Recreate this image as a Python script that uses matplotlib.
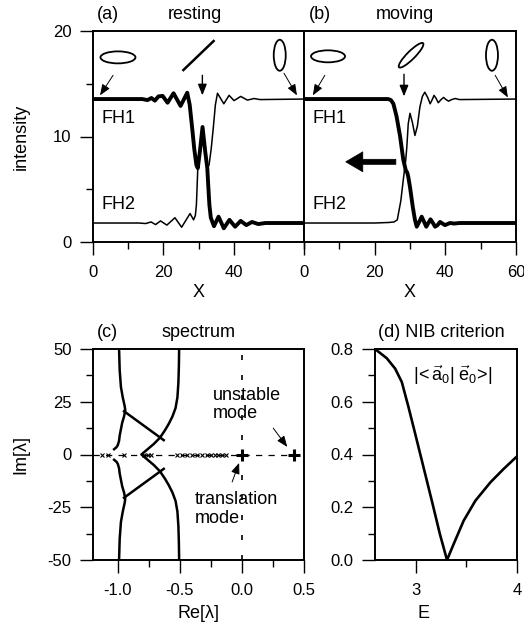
import matplotlib
matplotlib.use("Agg")
import matplotlib.pyplot as plt
from matplotlib.ticker import MultipleLocator, FormatStrFormatter
from matplotlib.patches import Ellipse
from matplotlib.transforms import ScaledTranslation

plt.rcParams['font.family'] = ['Liberation Sans', 'DejaVu Sans']
plt.rcParams['axes.unicode_minus'] = False
plt.rcParams['mathtext.fontset'] = 'custom'
plt.rcParams['mathtext.rm'] = 'Liberation Sans'
plt.rcParams['mathtext.it'] = 'Liberation Sans'
plt.rcParams['mathtext.bf'] = 'Liberation Sans:bold'

# ---------------- data: panel (a) resting ----------------
rest_fh1_x = [0, 14, 15.5, 16.6, 17.6, 18.6, 19.8, 21.2, 22.9, 24.9, 26.8, 27.5, 28.2, 28.8, 29.4, 29.8,
              30.4, 31.15, 31.9, 32.5, 32.8, 33.1, 33.5, 34.4, 35.7, 37.2, 38.8, 40.4, 42.0, 43.6, 45.2, 47, 49, 60]
rest_fh1_y = [13.55, 13.55, 13.45, 13.65, 13.4, 13.8, 13.85, 13.2, 14.1, 12.9, 14.15, 13.0, 10.8, 8.8, 7.3, 7.0,
              8.6, 10.9, 8.6, 7.0, 5.2, 3.5, 2.3, 1.5, 2.4, 1.3, 2.1, 1.45, 2.0, 1.6, 1.9, 1.7, 1.8, 1.8]
rest_fh2_x = [0, 13, 15, 16.5, 17.8, 19.2, 21.0, 23.3, 25.2, 27.6, 28.6, 29.1, 29.4, 29.6, 29.8,
              30.4, 31.15, 31.9, 32.5, 33.0, 33.6, 34.2, 34.8, 35.4, 37.2, 38.7, 40.1, 42.0, 43.9, 45.8, 47.5, 60]
rest_fh2_y = [1.8, 1.8, 1.75, 1.9, 1.65, 2.0, 1.6, 2.3, 1.4, 2.7, 2.1, 2.5, 3.5, 5.2, 7.0,
              8.6, 10.9, 8.6, 7.0, 7.3, 8.8, 10.8, 13.0, 14.1, 13.1, 13.9, 13.4, 13.8, 13.45, 13.6, 13.5, 13.55]

# ---------------- data: panel (b) moving ----------------
mov_fh1_x = [0, 23.8, 24.6, 25.3, 26.2, 27.2, 28.1, 28.8, 29.2, 29.5, 30.0, 30.8, 31.4, 31.9, 32.6, 33.3,
             34.0, 34.6, 35.2, 35.8, 36.5, 37.1, 37.8, 38.5, 39.2, 39.9, 40.6, 41.3, 42.5, 44, 60]
mov_fh1_y = [13.55, 13.55, 13.45, 13.1, 11.9, 10.0, 7.8, 6.8, 6.6, 6.2, 5.2, 3.3, 2.1, 1.45, 1.9, 2.4,
             1.9, 1.45, 1.8, 2.15, 1.8, 1.45, 1.6, 1.9, 1.75, 1.6, 1.7, 1.8, 1.75, 1.8, 1.8]
mov_fh2_x = [0, 20, 24, 25.5, 26.4, 27.4, 28.1, 28.8, 29.1, 29.5, 30.0, 30.7, 31.4, 32.1, 32.8, 33.5,
             34.2, 35.0, 35.7, 36.3, 36.8, 37.4, 38.0, 38.8, 39.5, 40.2, 40.9, 41.8, 42.8, 44, 60]
mov_fh2_y = [1.8, 1.8, 1.85, 1.9, 2.1, 3.9, 5.9, 7.8, 9.0, 11.2, 12.2, 11.3, 10.1, 11.0, 12.8, 13.8,
             14.2, 13.7, 13.1, 13.5, 13.9, 13.6, 13.2, 13.5, 13.7, 13.5, 13.35, 13.5, 13.6, 13.5, 13.55]

# ---------------- data: panel (c) spectrum ----------------
outer_re = [-0.506, -0.508, -0.512, -0.52, -0.535, -0.56, -0.59, -0.62, -0.66, -0.71, -0.76, -0.81,
            -0.76, -0.71, -0.66, -0.62, -0.59, -0.56, -0.535, -0.52, -0.512, -0.508, -0.506]
outer_im = [50, 42, 34, 27, 22, 18, 14.5, 11.5, 8, 5, 2.5, 0,
            -2.5, -5, -8, -11.5, -14.5, -18, -22, -27, -34, -42, -50]
left_up_re = [-0.99, -0.985, -0.975, -0.96, -0.945, -0.94, -0.95, -0.965, -0.975, -0.985, -0.99, -1.0, -1.01, -1.03]
left_up_im = [50, 40, 32, 27, 23, 21, 18, 15, 12, 9, 6.5, 4.5, 3.5, 2.5]
left_lo_re = [-1.03, -1.01, -1.0, -0.99, -0.985, -0.975, -0.965, -0.95, -0.94, -0.945, -0.96, -0.975, -0.985, -0.99]
left_lo_im = [-2.5, -3.5, -4.5, -6.5, -9, -12, -15, -18, -21, -23, -27, -32, -40, -50]
diag_up_re = [-0.95, -0.63]
diag_up_im = [20.5, 6.8]
diag_lo_re = [-0.95, -0.63]
diag_lo_im = [-20.5, -6.8]
discrete_re = [-1.13, -1.08, -0.95, -0.79, -0.76, -0.73, -0.52, -0.48, -0.44, -0.40, -0.36, -0.32,
               -0.28, -0.25, -0.22, -0.19, -0.16, -0.13]
discrete_im = [0] * len(discrete_re)
mode_re = [0.0, 0.42]
mode_im = [0.0, 0.0]

# ---------------- data: panel (d) NIB criterion ----------------
E_vals = [2.6, 2.716, 2.798, 2.864, 2.93, 2.996, 3.078, 3.16, 3.24, 3.31, 3.375, 3.474, 3.59, 3.739, 3.87, 4.0]
nib_vals = [0.8, 0.765, 0.726, 0.675, 0.58, 0.479, 0.352, 0.225, 0.098, 0.0, 0.06, 0.149, 0.225, 0.295, 0.346, 0.393]

# ---------------- figure ----------------
W, H = 524, 631
fig = plt.figure(figsize=(W / 100, H / 100), dpi=100)

def pos(l, r, t, b):
    return [l / W, (H - b) / H, (r - l) / W, (b - t) / H]

axa = fig.add_axes(pos(93, 304, 31, 242))
axb = fig.add_axes(pos(304, 516, 31, 242))
axc = fig.add_axes(pos(93, 304, 349, 560))
axd = fig.add_axes(pos(375, 517, 349, 560))

TFS = 12
LFS = 13
for ax in (axa, axb, axc, axd):
    for s in ax.spines.values():
        s.set_linewidth(1.4)
    ax.tick_params(which='both', direction='out', width=1.0, labelsize=TFS,
                   top=False, right=False)
    ax.tick_params(which='major', length=9.4)
    ax.tick_params(which='minor', length=5)
    ax.tick_params(axis='x', which='both', pad=7.5)
    ax.tick_params(axis='y', which='both', pad=6)

THICK = 2.8
THIN = 1.1

# panel a
axa.plot(rest_fh2_x, rest_fh2_y, color='k', lw=THIN, solid_joinstyle='round')
axa.plot(rest_fh1_x, rest_fh1_y, color='k', lw=THICK, solid_joinstyle='round')
axa.set_xlim(0, 60)
axa.set_ylim(0, 20)
axa.xaxis.set_major_locator(MultipleLocator(20))
axa.xaxis.set_minor_locator(MultipleLocator(10))
axa.set_xticks([0, 20, 40])
axa.yaxis.set_major_locator(MultipleLocator(10))
axa.yaxis.set_minor_locator(MultipleLocator(5))
axa.set_ylabel('intensity', fontsize=LFS)
axa.yaxis.label.set_va('center')
axa.yaxis.set_label_coords(-0.341, 0.5)
axa.set_xlabel('X', fontsize=LFS)
axa.xaxis.set_label_coords(0.5, -0.2)
axa.text(0.02, 1.076, '(a)', transform=axa.transAxes, fontsize=LFS, ha='left', va='center')
axa.text(0.483, 1.076, 'resting', transform=axa.transAxes, fontsize=LFS, ha='center', va='center')
axa.text(2.5, 11.75, 'FH1', fontsize=LFS, ha='left', va='center')
axa.text(2.5, 3.6, 'FH2', fontsize=LFS, ha='left', va='center')

# panel b
axb.plot(mov_fh2_x, mov_fh2_y, color='k', lw=THIN, solid_joinstyle='round')
axb.plot(mov_fh1_x, mov_fh1_y, color='k', lw=THICK, solid_joinstyle='round')
axb.set_xlim(0, 60)
axb.set_ylim(0, 20)
axb.xaxis.set_major_locator(MultipleLocator(20))
axb.xaxis.set_minor_locator(MultipleLocator(10))
axb.tick_params(axis='y', which='both', left=False, labelleft=False)
axb.set_xlabel('X', fontsize=LFS)
axb.xaxis.set_label_coords(0.5, -0.2)
axb.text(0.024, 1.076, '(b)', transform=axb.transAxes, fontsize=LFS, ha='left', va='center')
axb.text(0.476, 1.076, 'moving', transform=axb.transAxes, fontsize=LFS, ha='center', va='center')
axb.text(2.3, 11.75, 'FH1', fontsize=LFS, ha='left', va='center')
axb.text(2.3, 3.6, 'FH2', fontsize=LFS, ha='left', va='center')
axb.annotate('', xy=(11.8, 7.6), xytext=(26.0, 7.6),
             arrowprops=dict(arrowstyle='simple,head_length=0.88,head_width=1.03,tail_width=0.26',
                             mutation_scale=14, fc='k', ec='k', lw=0.5, shrinkA=0, shrinkB=0))

# polarization glyphs and small arrows
def ellipse(ax, x, y, w_px, h_px, angle=0, lw=1.3):
    tr = fig.dpi_scale_trans + ScaledTranslation(x, y, ax.transData)
    e = Ellipse((0, 0), w_px / 100, h_px / 100, angle=angle, transform=tr,
                fill=False, ec='k', lw=lw, clip_on=False)
    ax.add_patch(e)

def small_arrow(ax, x0, y0, x1, y1, lw=0.7):
    ax.annotate('', xy=(x1, y1), xytext=(x0, y0),
                arrowprops=dict(arrowstyle='-|>,head_length=0.55,head_width=0.22', lw=lw,
                                color='k', shrinkA=0, shrinkB=0, mutation_scale=12))

ellipse(axa, 7.1, 17.5, 35, 12)
small_arrow(axa, 5.7, 15.8, 2.0, 13.9)
axa.plot([25.7, 34.3], [16.3, 19.05], color='k', lw=1.8)
small_arrow(axa, 31.1, 15.8, 31.1, 13.9, lw=1.0)
ellipse(axa, 53.1, 17.7, 12, 31)
small_arrow(axa, 54.3, 16.0, 58.0, 13.9)

ellipse(axb, 6.8, 17.6, 34, 12)
small_arrow(axb, 5.9, 15.8, 2.5, 13.9)
ellipse(axb, 30.3, 17.7, 34, 8, angle=45)
small_arrow(axb, 28.3, 15.9, 28.3, 13.8, lw=1.0)
ellipse(axb, 53.2, 17.7, 12, 31)
small_arrow(axb, 54.1, 15.8, 57.7, 13.7)

# panel c
CLW = 1.8
axc.axhline(0, color='k', lw=0.9, ls=(0, (5, 5)))
axc.axvline(0, color='k', lw=1.2, ls=(0, (3, 9)))
axc.plot(outer_re, outer_im, color='k', lw=CLW)
axc.plot(left_up_re, left_up_im, color='k', lw=CLW)
axc.plot(left_lo_re, left_lo_im, color='k', lw=CLW)
axc.plot(diag_up_re, diag_up_im, color='k', lw=CLW)
axc.plot(diag_lo_re, diag_lo_im, color='k', lw=CLW)
axc.plot(discrete_re, discrete_im, ls='none', marker='x', ms=3.5, mew=0.8, color='k')
axc.plot(mode_re, mode_im, ls='none', marker='+', ms=8, mew=2.2, color='k')
axc.set_xlim(-1.2, 0.5)
axc.set_ylim(-50, 50)
axc.xaxis.set_major_locator(MultipleLocator(0.5))
axc.xaxis.set_minor_locator(MultipleLocator(0.25))
axc.xaxis.set_major_formatter(FormatStrFormatter('%.1f'))
axc.yaxis.set_major_locator(MultipleLocator(25))
axc.yaxis.set_minor_locator(MultipleLocator(12.5))
axc.set_ylabel('Im[λ]', fontsize=LFS)
axc.yaxis.label.set_va('center')
axc.yaxis.set_label_coords(-0.341, 0.5)
axc.set_xlabel('Re[λ]', fontsize=LFS)
axc.xaxis.set_label_coords(0.5, -0.215)
axc.text(0.02, 1.076, '(c)', transform=axc.transAxes, fontsize=LFS, ha='left', va='center')
axc.text(0.498, 1.076, 'spectrum', transform=axc.transAxes, fontsize=LFS, ha='center', va='center')
axc.text(-0.232, 23.7, 'unstable\nmode', fontsize=LFS, ha='left', va='center', linespacing=1.15)
small_arrow(axc, 0.252, 12.5, 0.365, 3.6)
axc.text(-0.377, -26.0, 'translation\nmode', fontsize=LFS, ha='left', va='center', linespacing=1.15)
small_arrow(axc, -0.079, -13.0, -0.023, -4.0)

# panel d
axd.plot(E_vals, nib_vals, color='k', lw=1.9)
axd.set_xlim(2.6, 4.0)
axd.set_ylim(0, 0.8)
axd.xaxis.set_major_locator(MultipleLocator(1))
axd.xaxis.set_minor_locator(MultipleLocator(0.5))
axd.yaxis.set_major_locator(MultipleLocator(0.2))
axd.yaxis.set_minor_locator(MultipleLocator(0.1))
axd.yaxis.set_major_formatter(FormatStrFormatter('%.1f'))
axd.set_xlabel('E', fontsize=LFS)
axd.xaxis.set_label_coords(0.34, -0.215)
axd.text(0.47, 1.076, '(d) NIB criterion', transform=axd.transAxes, fontsize=LFS, ha='center', va='center')
axd.text(3.37, 0.70, r'$|\!<\vec{\mathrm{a}}_0|\;\vec{\mathrm{e}}_0\!>\!|$', fontsize=LFS,
         ha='center', va='center')

fig.savefig('out.png', dpi=100)
